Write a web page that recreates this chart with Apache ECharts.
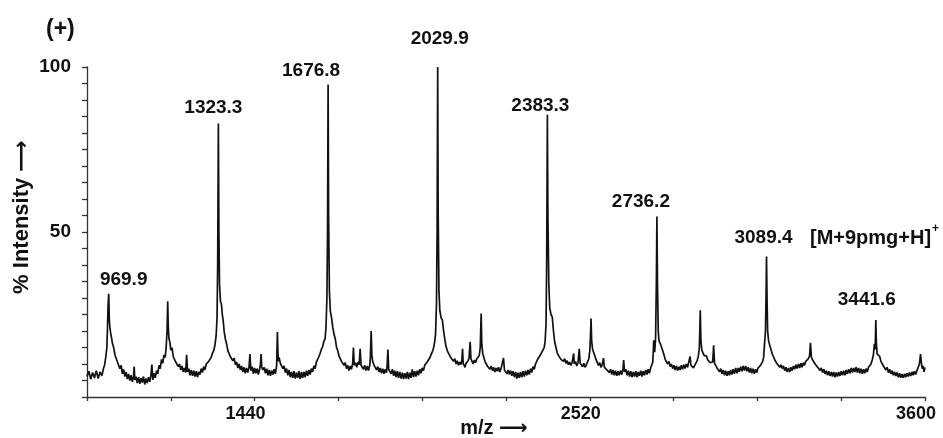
<!DOCTYPE html>
<html>
<head>
<meta charset="utf-8">
<script src="https://cdn.jsdelivr.net/npm/echarts@6/dist/echarts.min.js"></script>
<style>html,body{margin:0;padding:0;background:#fff}#c{width:943px;height:438px}</style>
</head>
<body>
<div id="c"></div>
<script>
// ---- data ----
var spectrum = [
[900,6.2],[906,7.8],[912,5.4],[918,7.4],[924,5.8],[930,8.0],[936,5.6],[942,7.6],[948,6.4],[953,8.6],[957,9.8],[961,12.5],[964,15],[966,21],[968,28],[970,31.3],[972,23],[974,21],[976,19.5],[979,18],[982,16.2],[986,15],[990,12.8],[994,13.2],[998,10.6],
[1002,11.0],[1006,8.6],[1010,9.6],[1014,7.0],[1018,8.4],[1022,6.2],[1026,7.6],[1030,5.4],[1034,7.0],[1038,5.0],[1042,6.6],[1046,4.6],[1050,6.4],[1052,9.2],[1054,5.2],[1058,6.2],[1062,4.2],[1066,6.0],[1070,4.0],[1074,5.8],[1078,4.4],[1082,6.2],[1086,3.8],[1090,5.6],[1094,4.2],[1098,6.0],
[1102,4.6],[1106,6.6],[1109,9.8],[1112,5.2],[1116,7.2],[1120,5.8],[1124,8.0],[1128,7.0],[1132,9.6],[1136,8.6],[1140,11.4],[1144,10.2],[1148,12.8],[1152,12.0],[1155,15],[1158,20],[1160,29.0],[1162,21],[1164,17.8],[1167,16.6],[1170,14.2],[1174,15.0],[1178,12.2],[1182,12.8],[1186,10.6],[1190,11.2],[1194,9.2],[1198,10.0],
[1202,8.2],[1206,9.4],[1210,7.6],[1214,8.8],[1218,7.4],[1221,12.8],[1224,7.6],[1228,8.6],[1232,6.6],[1236,8.2],[1240,6.4],[1244,8.0],[1248,6.2],[1252,7.8],[1256,6.0],[1260,7.6],[1264,6.8],[1268,8.6],[1272,7.4],[1276,9.2],[1280,8.2],[1284,10.0],[1288,9.4],[1292,10.8],[1296,10.4],
[1300,12.0],[1304,13.2],[1308,14.0],[1312,15.6],[1316,18.5],[1319,24],[1321,40],[1323.3,82.9],[1325,50],[1327,34],[1330,29],[1333,28.2],[1336,25],[1339,23],[1342,19.8],[1346,17.5],[1350,16.0],[1354,14.0],[1358,14.6],[1362,12.2],[1366,12.8],[1370,11.0],[1374,11.8],[1378,9.8],[1382,10.6],[1386,8.8],[1390,10.0],[1394,8.2],[1398,9.4],
[1402,7.6],[1406,9.0],[1410,7.2],[1414,8.8],[1418,7.4],[1422,9.0],[1425,13.0],[1428,8.0],[1432,9.2],[1436,7.0],[1440,8.8],[1444,7.2],[1448,8.6],[1452,6.8],[1456,8.4],[1459,10.0],[1461,13.0],[1463,9.0],[1467,8.2],[1471,9.0],[1475,7.2],[1479,8.6],[1483,6.6],[1487,8.2],[1491,6.4],[1495,8.0],[1499,6.8],
[1503,8.4],[1507,7.0],[1511,9.6],[1513.5,19.7],[1516,10.8],[1519,12.0],[1523,10.2],[1527,10.8],[1531,8.6],[1535,9.4],[1539,7.4],[1543,8.6],[1547,6.6],[1551,8.2],[1555,6.0],[1559,7.6],[1563,5.8],[1567,7.8],[1571,5.6],[1575,7.4],[1579,5.8],[1583,7.8],[1587,5.4],[1591,7.6],[1595,5.8],[1599,7.6],
[1603,6.0],[1607,8.0],[1611,6.4],[1615,8.2],[1619,6.8],[1623,8.6],[1627,7.6],[1631,9.4],[1635,8.6],[1639,10.6],[1643,10.0],[1647,12.2],[1651,13.2],[1655,14.4],[1659,15.2],[1663,16.8],[1667,17.6],[1670,21],[1673,30],[1675,50],[1676.8,94.7],[1678.5,55],[1681,32],[1684,26],[1688,24],[1692,21],[1696,19],
[1700,17.6],[1704,15.0],[1708,14.0],[1712,12.4],[1716,12.8],[1720,10.8],[1724,11.4],[1728,9.6],[1732,10.4],[1736,8.6],[1740,9.6],[1744,8.0],[1748,9.4],[1752,8.4],[1756,10.2],[1758.5,15.0],[1761,9.6],[1765,10.4],[1769,9.0],[1773,10.6],[1777,9.8],[1780,14.6],[1783,9.6],[1787,10.2],[1791,8.4],[1795,9.6],[1799,8.0],
[1803,9.4],[1807,8.0],[1811,9.6],[1813,12],[1815.5,20.0],[1818,12.4],[1821,10.6],[1825,9.6],[1829,10.0],[1833,8.2],[1837,9.2],[1841,7.6],[1845,8.8],[1849,7.2],[1853,8.6],[1857,7.0],[1861,8.4],[1865,7.4],[1867,9.6],[1869.5,14.4],[1872,8.4],[1876,8.8],[1880,7.0],[1884,8.4],[1888,6.4],[1892,8.0],[1896,6.0],
[1900,7.8],[1904,5.8],[1908,7.6],[1912,5.6],[1916,7.4],[1920,5.4],[1924,7.2],[1928,5.6],[1932,7.6],[1936,5.4],[1940,7.4],[1944,5.8],[1948,8.4],[1952,6.0],[1956,7.8],[1960,6.2],[1964,8.0],[1968,6.6],[1972,8.4],[1976,7.2],[1980,8.8],[1984,8.0],[1988,9.6],[1992,9.0],[1996,10.6],
[2000,10.4],[2004,11.8],[2008,12.4],[2012,13.6],[2016,14.6],[2020,16.6],[2023,19],[2026,28],[2028,50],[2029.9,100],[2031.5,56],[2034,32],[2037,26],[2041,24],[2045,23.3],[2049,20],[2053,17.4],[2057,15.2],[2061,14.0],[2065,13.2],[2069,13.6],[2073,11.8],[2077,12.4],[2081,10.8],[2085,11.6],[2089,10.0],[2093,11.0],[2097,9.6],
[2101,10.6],[2105,9.8],[2108,11.4],[2110,14.6],[2112,10.2],[2115,10.8],[2118,9.0],[2121,10.2],[2124,9.6],[2128,11.0],[2131,11.8],[2134.5,16.7],[2137,11.6],[2140,11.0],[2144,10.0],[2148,11.2],[2152,10.4],[2156,11.6],[2160,11.0],[2164,12.6],[2167,15],[2170,25.3],[2172,16],[2175,13.2],[2178,12.2],[2182,10.8],[2186,11.2],[2190,9.4],[2194,10.0],[2198,8.4],
[2202,9.4],[2206,8.0],[2210,9.0],[2214,7.6],[2218,8.8],[2222,7.8],[2226,9.0],[2230,7.6],[2234,8.6],[2238,8.0],[2242,11.8],[2245,8.2],[2249,8.8],[2253,7.0],[2257,8.2],[2261,6.8],[2265,8.0],[2269,6.4],[2273,7.8],[2277,6.0],[2281,7.6],[2285,5.6],[2289,7.4],[2293,5.8],[2297,7.6],
[2301,6.0],[2305,7.8],[2309,6.2],[2313,8.0],[2317,6.6],[2321,8.2],[2325,6.8],[2329,8.6],[2333,7.4],[2337,9.2],[2341,8.4],[2345,10.0],[2349,10.6],[2353,11.6],[2357,12.0],[2361,12.8],[2365,13.2],[2369,14.2],[2373,15.0],[2376,16.8],[2379,22],[2381,40],[2383.3,85.5],[2385,55],[2388,34],[2391,27],[2395,25],[2399,24.3],
[2403,20],[2407,16.6],[2411,15.0],[2415,13.4],[2419,12.6],[2423,13.0],[2427,11.4],[2431,12.0],[2435,10.8],[2439,11.6],[2443,10.2],[2447,11.0],[2451,9.8],[2455,10.6],[2459,9.6],[2463,10.4],[2466,9.8],[2468,13.2],[2470,10.0],[2474,10.8],[2478,9.4],[2482,10.4],[2486,14.6],[2489,10.2],[2493,10.6],[2497,9.2],
[2501,10.2],[2505,9.0],[2509,9.8],[2513,10.2],[2517,11.6],[2520,14],[2522,18],[2524,23.8],[2526,17],[2529,14.4],[2532,15.0],[2536,12.6],[2540,11.4],[2544,11.0],[2548,9.6],[2552,10.4],[2556,9.0],[2560,9.8],[2564,11.8],[2567,9.0],[2571,9.4],[2575,8.2],[2579,8.8],[2583,7.4],[2587,8.4],[2591,6.8],[2595,8.2],[2599,6.6],
[2603,8.0],[2607,6.4],[2611,7.8],[2615,6.6],[2619,8.0],[2623,6.8],[2627,8.4],[2629,11.2],[2632,7.6],[2636,8.4],[2640,6.6],[2644,8.0],[2648,6.2],[2652,7.8],[2656,6.0],[2660,7.6],[2664,6.2],[2668,7.8],[2672,6.0],[2676,7.6],[2680,6.4],[2684,8.0],[2688,6.2],[2692,7.8],[2696,6.6],
[2700,8.2],[2704,6.8],[2708,8.4],[2712,7.2],[2716,8.8],[2720,8.6],[2723,10.6],[2726,17.2],[2729,13.6],[2732,18],[2734.5,35],[2736.2,54.7],[2738,35],[2740.5,20],[2743,17],[2747,16.2],[2751,16.8],[2755,14.0],[2759,12.8],[2763,11.4],[2767,11.8],[2771,10.0],[2775,10.8],[2779,9.2],[2783,10.0],[2787,8.6],[2791,9.6],[2795,8.2],[2799,9.4],
[2803,8.0],[2807,9.2],[2811,8.2],[2815,9.6],[2819,8.4],[2823,9.8],[2827,8.6],[2831,10.0],[2835,9.0],[2839,10.6],[2843,12.3],[2846,9.6],[2850,10.0],[2854,8.8],[2858,9.6],[2862,9.8],[2866,11.0],[2870,12.6],[2873,15],[2876,26.3],[2878,17],[2881,14.2],[2884,13.6],[2888,12.6],[2892,12.0],[2896,12.4],
[2900,11.2],[2904,11.6],[2908,10.4],[2912,10.8],[2916,10.6],[2919,15.7],[2922,10.2],[2926,9.6],[2930,8.8],[2934,9.2],[2938,7.6],[2942,8.6],[2946,7.0],[2950,8.2],[2954,6.6],[2958,8.0],[2962,6.4],[2966,7.8],[2970,6.6],[2974,8.2],[2978,6.8],[2982,8.4],[2986,7.0],[2990,8.8],[2994,7.2],[2998,8.8],
[3002,7.6],[3006,9.2],[3010,7.8],[3014,9.4],[3018,8.0],[3022,9.4],[3026,7.8],[3030,9.0],[3034,7.4],[3038,8.8],[3042,7.2],[3046,8.6],[3050,7.0],[3054,8.4],[3058,7.4],[3062,8.8],[3066,8.2],[3070,9.6],[3074,9.4],[3077,10.8],[3080,12.0],[3083,16.1],[3086,20],[3087.8,30],[3089.4,42.6],[3091,30],[3093,20],[3096,17],
[3100,15.6],[3104,16.1],[3108,13.0],[3112,12.2],[3116,11.2],[3120,11.6],[3124,10.0],[3128,10.6],[3132,9.0],[3136,9.8],[3140,8.6],[3144,9.4],[3148,8.0],[3152,9.0],[3156,7.6],[3160,8.8],[3164,7.6],[3168,9.0],[3172,8.0],[3176,9.4],[3180,8.4],[3184,9.8],[3188,8.6],[3192,10.0],[3196,8.8],
[3200,10.2],[3204,9.0],[3208,10.4],[3212,9.6],[3216,10.8],[3220,10.4],[3224,11.6],[3228,12.4],[3231,16.4],[3234,12.0],[3238,11.2],[3242,11.0],[3246,10.0],[3250,10.2],[3254,9.0],[3258,9.4],[3262,8.0],[3266,8.8],[3270,7.4],[3274,8.4],[3278,7.0],[3282,8.0],[3286,6.6],[3290,7.8],[3294,6.4],[3298,7.6],
[3302,6.2],[3306,7.6],[3310,6.0],[3314,7.4],[3318,6.2],[3322,7.6],[3326,6.4],[3330,7.8],[3334,6.6],[3338,8.0],[3342,6.6],[3346,8.2],[3350,7.0],[3354,8.4],[3358,7.2],[3362,8.8],[3366,7.4],[3370,8.8],[3374,7.6],[3378,9.0],[3382,7.4],[3386,8.8],[3390,7.2],[3394,8.6],[3398,7.0],
[3402,8.4],[3406,7.2],[3410,8.6],[3414,7.6],[3418,9.0],[3422,8.4],[3426,10.0],[3430,11.2],[3434,13.0],[3437,16.1],[3439.5,14.4],[3441.6,23.3],[3443.5,16],[3446,13.0],[3450,12.6],[3454,12.3],[3458,10.8],[3462,10.8],[3466,9.4],[3470,9.8],[3474,8.2],[3478,9.0],[3482,7.4],[3486,8.4],[3490,7.0],[3494,8.0],[3498,6.6],
[3502,7.6],[3506,6.4],[3510,7.4],[3514,6.0],[3518,7.2],[3522,5.8],[3526,7.0],[3530,5.8],[3534,7.0],[3538,6.0],[3542,7.2],[3546,6.2],[3550,7.4],[3554,6.4],[3558,7.6],[3562,6.6],[3566,7.8],[3570,6.8],[3574,8.0],[3578,8.4],[3582,10.0],[3585.6,13.0],[3588,10.6],[3591,8.6],[3594,9.4],[3597,7.6],[3600,9.0]
];
var peakMz        = [969.9, 1323.3, 1676.8, 2029.9, 2383.3, 2736.2, 3089.4, 3441.6];
var peakIntensity = [31.3, 82.9, 94.7, 100, 85.5, 54.7, 42.6, 23.3];
var peakLabels    = ['969.9', '1323.3', '1676.8', '2029.9', '2383.3', '2736.2', '3089.4', '3441.6'];
var xTickLabels   = [1440, 2520, 3600];
var yTickLabels   = [50, 100];
var seriesNote    = '[M+9pmg+H]';
var modeNote      = '(+)';
var xName = 'm/z \u27F6';
var yName = '% Intensity \u27F6';

// ---- presentation ----
var labelOffsets = [[15,0],[-5,-2],[-17,0],[2,-14],[-7,5],[-16,-1],[-3,-5],[-9,-6]];
var FONT = "'Liberation Sans', Arial, Helvetica, 'DejaVu Sans', sans-serif";
var INK = '#111';

var labelData = peakMz.map(function (m, i) {
  return {
    value: [m, peakIntensity[i]],
    label: { formatter: peakLabels[i], offset: labelOffsets[i] }
  };
});

var chart = echarts.init(document.getElementById('c'), null, { renderer: 'canvas' });
chart.setOption({
  animation: false,
  backgroundColor: '#fff',
  grid: { left: 87, right: 18, top: 67, bottom: 41, containLabel: false },
  xAxis: {
    type: 'value', min: 900, max: 3600, interval: 270,
    axisLine: { show: true, lineStyle: { color: '#333', width: 1.3 } },
    axisTick: { show: true, length: 4, lineStyle: { color: '#333', width: 1.3 } },
    splitLine: { show: false },
    axisLabel: {
      margin: 8, color: INK, fontFamily: FONT, fontWeight: 'bold', fontSize: 18,
      padding: [0, 18, 0, 0],
      showMinLabel: true, showMaxLabel: true,
      formatter: function (v) { return xTickLabels.indexOf(Math.round(v)) >= 0 ? String(Math.round(v)) : ''; }
    }
  },
  yAxis: {
    type: 'value', min: 0, max: 100, interval: 5,
    axisLine: { show: true, lineStyle: { color: '#333', width: 1.3 } },
    axisTick: { show: true, length: 5, lineStyle: { color: '#333', width: 1.3 } },
    splitLine: { show: false },
    axisLabel: {
      margin: 16, color: INK, fontFamily: FONT, fontWeight: 'bold', fontSize: 19,
      formatter: function (v) { return yTickLabels.indexOf(Math.round(v)) >= 0 ? String(Math.round(v)) : ''; }
    }
  },
  series: [
    {
      type: 'line', data: spectrum, showSymbol: false, symbol: 'none',
      lineStyle: { color: '#111', width: 1.7 }, silent: true, z: 2
    },
    {
      type: 'scatter', data: labelData, symbolSize: 1, itemStyle: { color: 'rgba(0,0,0,0)' }, silent: true, z: 3,
      label: {
        show: true, position: 'top', distance: 4, color: INK, opacity: 1,
        textBorderWidth: 0, fontFamily: FONT, fontWeight: 'bold', fontSize: 19
      }
    }
  ],
  graphic: [
    { type: 'text', left: 46, top: 18, style: { text: modeNote, fill: INK, font: 'bold 23px ' + FONT } },
    { type: 'text', x: 22, y: 217, rotation: Math.PI / 2,
      style: { text: yName, fill: INK, font: 'bold 22px ' + FONT, align: 'center', verticalAlign: 'middle' } },
    { type: 'text', x: 494, y: 428,
      style: { text: xName, fill: INK, font: 'bold 20px ' + FONT, align: 'center', verticalAlign: 'middle' } },
    { type: 'text', x: 810, y: 238,
      style: { text: seriesNote, fill: INK, font: 'bold 20px ' + FONT, align: 'left', verticalAlign: 'middle' } },
    { type: 'text', x: 932, y: 229,
      style: { text: '+', fill: INK, font: 'bold 12px ' + FONT, align: 'left', verticalAlign: 'middle' } }
  ]
});
</script>
</body>
</html>
